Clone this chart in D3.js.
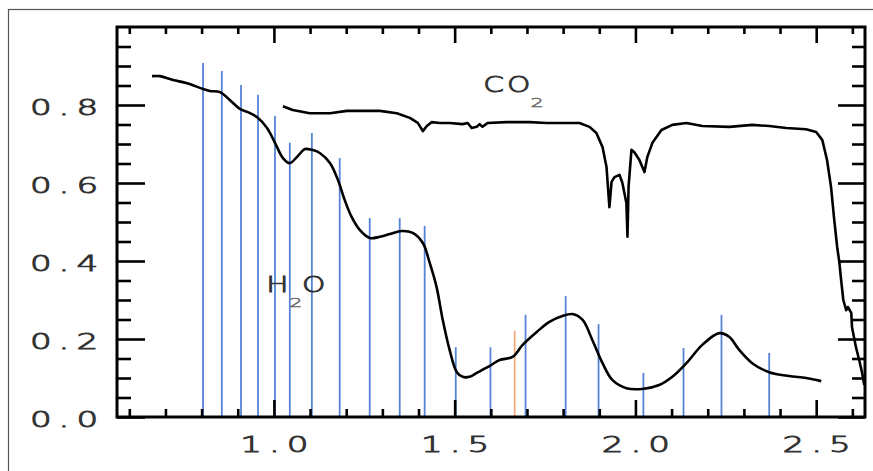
<!DOCTYPE html>
<html><head><meta charset="utf-8">
<script src="https://cdn.jsdelivr.net/npm/d3@7"></script>
<style>html,body{margin:0;padding:0;background:#fff;overflow:hidden}</style>
</head><body><svg id="c" width="873" height="471"></svg>
<script>
// ---- data ----
const h2oWavelength = [0.663,0.685,0.721,0.760,0.804,0.823,0.851,0.878,0.906,0.934,0.953,0.981,1.003,1.025,1.044,1.064,1.086,1.105,1.127,1.155,1.177,1.196,1.215,1.238,1.265,1.293,1.320,1.354,1.384,1.412,1.431,1.450,1.467,1.486,1.506,1.522,1.541,1.561,1.597,1.624,1.660,1.688,1.727,1.762,1.798,1.826,1.854,1.881,1.909,1.936,1.975,2.019,2.066,2.102,2.141,2.185,2.232,2.260,2.287,2.323,2.370,2.425,2.472,2.514];
const h2oTransmission = [0.874,0.874,0.864,0.856,0.841,0.836,0.833,0.813,0.790,0.779,0.769,0.741,0.703,0.664,0.651,0.667,0.687,0.685,0.677,0.651,0.608,0.556,0.513,0.479,0.459,0.462,0.469,0.477,0.472,0.446,0.395,0.333,0.249,0.172,0.115,0.103,0.103,0.113,0.131,0.146,0.154,0.185,0.218,0.244,0.259,0.264,0.249,0.197,0.138,0.095,0.074,0.072,0.082,0.103,0.138,0.185,0.215,0.205,0.172,0.138,0.115,0.105,0.100,0.092];
const co2Wavelength = [1.025,1.052,1.099,1.155,1.202,1.293,1.340,1.376,1.398,1.412,1.423,1.436,1.459,1.486,1.522,1.536,1.547,1.561,1.569,1.577,1.591,1.644,1.707,1.754,1.809,1.845,1.873,1.892,1.909,1.920,1.928,1.934,1.942,1.956,1.964,1.975,1.978,1.981,1.989,1.997,2.011,2.025,2.033,2.047,2.072,2.102,2.141,2.185,2.260,2.323,2.370,2.417,2.472,2.500,2.517,2.530,2.541,2.550,2.558,2.564,2.569,2.575,2.583,2.588,2.597,2.599,2.610,2.619,2.627,2.633];
const co2Transmission = [0.797,0.787,0.779,0.779,0.785,0.785,0.779,0.767,0.754,0.733,0.746,0.756,0.754,0.754,0.751,0.754,0.741,0.744,0.751,0.744,0.754,0.756,0.756,0.754,0.754,0.754,0.744,0.728,0.692,0.641,0.538,0.603,0.615,0.621,0.600,0.549,0.462,0.590,0.685,0.679,0.659,0.628,0.667,0.703,0.736,0.749,0.754,0.746,0.744,0.749,0.746,0.741,0.738,0.731,0.710,0.659,0.590,0.505,0.436,0.397,0.351,0.300,0.274,0.282,0.267,0.231,0.179,0.146,0.113,0.082];
const bandWavelength = [0.804,0.856,0.909,0.956,1.003,1.044,1.105,1.182,1.265,1.348,1.417,1.503,1.599,1.696,1.807,1.898,2.022,2.133,2.238,2.370];
const bandHeight = [0.908,0.887,0.851,0.826,0.772,0.703,0.728,0.664,0.510,0.510,0.490,0.179,0.179,0.262,0.310,0.238,0.113,0.177,0.262,0.164];
const markerWavelength = [1.666];
const markerHeight = [0.221];
const xMajorTicks = [1.0,1.5,2.0,2.5];
const xMinorTicks = [0.6,0.7,0.8,0.9,1.1,1.2,1.3,1.4,1.6,1.7,1.8,1.9,2.1,2.2,2.3,2.4,2.6];
const yMajorTicks = [0.0,0.2,0.4,0.6,0.8];
const yMinorTicks = [0.05,0.1,0.15,0.25,0.3,0.35,0.45,0.5,0.55,0.65,0.7,0.75,0.85,0.9,0.95];
const labelText = ["H","2","O","C","O","2"];
const labelWavelength = [1.010,1.061,1.110,1.608,1.677,1.728];
const labelValue = [0.320,0.282,0.320,0.833,0.833,0.795];
const labelIsSub = [false,true,false,false,false,true];

// ---- layout ----
const svg = d3.select("#c");
const L = 117, R = 865, T = 27, B = 417;
const x = d3.scaleLinear().domain([0.566, 2.635]).range([L, R]);
const y = d3.scaleLinear().domain([0, 1]).range([B, T]);
const FONT = "'DejaVu Sans', sans-serif";

svg.append("rect").attr("width", 873).attr("height", 471).attr("fill", "#fff");
// outer frame
svg.append("rect").attr("x", 8.5).attr("y", 9.5).attr("width", 900).attr("height", 500)
  .attr("fill", "none").attr("stroke", "#555").attr("stroke-width", 1.2);

// bands
const bands = bandWavelength.map((w, i) => ({w, h: bandHeight[i]}));
svg.append("g").selectAll("line").data(bands).join("line")
  .attr("x1", d => x(d.w)).attr("x2", d => x(d.w))
  .attr("y1", y(0)).attr("y2", d => y(d.h))
  .attr("stroke", "#5584d6").attr("stroke-width", 1.8);
const markers = markerWavelength.map((w, i) => ({w, h: markerHeight[i]}));
svg.append("g").selectAll("line").data(markers).join("line")
  .attr("x1", d => x(d.w)).attr("x2", d => x(d.w))
  .attr("y1", y(0)).attr("y2", d => y(d.h))
  .attr("stroke", "#f2a472").attr("stroke-width", 1.6);

// curves
const h2o = h2oWavelength.map((w, i) => [w, h2oTransmission[i]]);
const co2 = co2Wavelength.map((w, i) => [w, co2Transmission[i]]);
svg.append("path").datum(h2o)
  .attr("d", d3.line().x(d => x(d[0])).y(d => y(d[1])).curve(d3.curveCatmullRom.alpha(0.5)))
  .attr("fill", "none").attr("stroke", "#000").attr("stroke-width", 2.6).attr("stroke-linejoin", "round");
svg.append("path").datum(co2)
  .attr("d", d3.line().x(d => x(d[0])).y(d => y(d[1])))
  .attr("fill", "none").attr("stroke", "#000").attr("stroke-width", 2.6).attr("stroke-linejoin", "round");

// axes ticks
function ticks(axis, tr) {
  const g = svg.append("g").attr("transform", tr).call(axis);
  g.select(".domain").remove();
  g.selectAll(".tick line").attr("stroke", "#000").attr("stroke-width", 2.6);
  return g;
}
ticks(d3.axisBottom(x).tickValues(xMinorTicks).tickSize(-8).tickFormat(""), `translate(0,${B})`);
const xb = ticks(d3.axisBottom(x).tickValues(xMajorTicks).tickSize(-17).tickFormat(d3.format(".1f")), `translate(0,${B})`);
ticks(d3.axisTop(x).tickValues(xMinorTicks).tickSize(-7).tickFormat(""), `translate(0,${T})`);
ticks(d3.axisTop(x).tickValues(xMajorTicks).tickSize(-16).tickFormat(""), `translate(0,${T})`);
ticks(d3.axisLeft(y).tickValues(yMinorTicks).tickSize(-14).tickFormat(""), `translate(${L},0)`);
const yl = ticks(d3.axisLeft(y).tickValues(yMajorTicks).tickSize(-28).tickFormat(d3.format(".1f")), `translate(${L},0)`);
ticks(d3.axisRight(y).tickValues(yMinorTicks).tickSize(-13).tickFormat(""), `translate(${R},0)`);
ticks(d3.axisRight(y).tickValues(yMajorTicks).tickSize(-27).tickFormat(""), `translate(${R},0)`);

// stretched tick labels
const LS = 4.5;
function styleLabel(sel, tx, ty) {
  sel.attr("font-family", FONT).attr("font-size", 22).attr("font-weight", 200)
    .attr("fill", "#333").attr("stroke", "#333").attr("stroke-width", 0.9)
    .attr("text-anchor", "middle").attr("x", 0).attr("y", 0).attr("dy", null)
    .attr("dx", LS / 2).attr("letter-spacing", LS)
    .attr("transform", `translate(${tx},${ty}) scale(1.55,1)`);
}
styleLabel(xb.selectAll(".tick text"), 0, 35);
styleLabel(yl.selectAll(".tick text"), -53, 9);

// frame
svg.append("rect").attr("x", L).attr("y", T).attr("width", R - L).attr("height", B - T)
  .attr("fill", "none").attr("stroke", "#000").attr("stroke-width", 3);

// molecule labels
labelText.forEach((t, i) => {
  const c = labelIsSub[i] ? "#666" : "#333";
  svg.append("text").text(t)
    .attr("font-family", FONT)
    .attr("font-size", labelIsSub[i] ? 13 : 22)
    .attr("font-weight", 200)
    .attr("fill", c).attr("stroke", c).attr("stroke-width", labelIsSub[i] ? 0.5 : 0.9)
    .attr("text-anchor", "middle")
    .attr("transform", `translate(${x(labelWavelength[i])},${y(labelValue[i])}) scale(${labelIsSub[i] ? 1.6 : 1.35},1)`);
});
</script></body></html>
